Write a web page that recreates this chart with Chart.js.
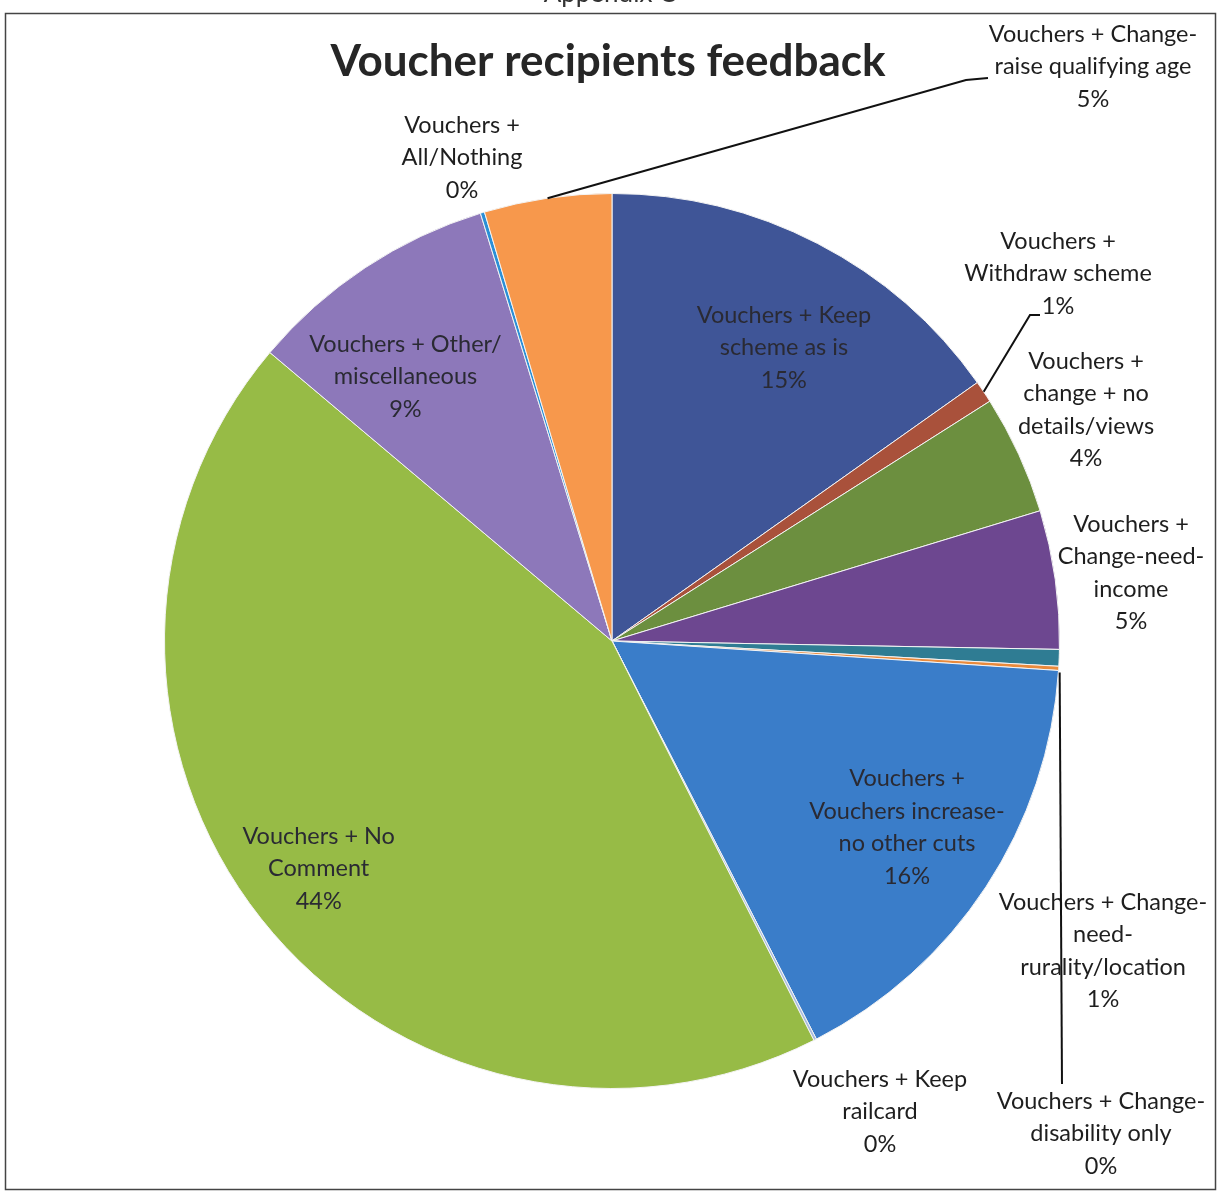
<!DOCTYPE html>
<html>
<head>
<meta charset="utf-8">
<script src="https://cdn.jsdelivr.net/npm/chart.js@4.4.1/dist/chart.umd.min.js"></script>
<style>
  html, body { margin: 0; padding: 0; background: #ffffff; }
  #wrap { width: 1221px; height: 1194px; position: relative; }
</style>
</head>
<body>
<div id="wrap"><canvas id="c" width="1221" height="1194"></canvas></div>
<script>
// ---- data ----
const chartTitle = "Voucher recipients feedback";
const pageHeading = "Appendix C";
const categories = [
  "Vouchers + Keep scheme as is",
  "Vouchers + Withdraw scheme",
  "Vouchers + change + no details/views",
  "Vouchers + Change-need-income",
  "Vouchers + Change-need-rurality/location",
  "Vouchers + Change-disability only",
  "Vouchers + Vouchers increase-no other cuts",
  "Vouchers + Keep railcard",
  "Vouchers + No Comment",
  "Vouchers + Other/miscellaneous",
  "Vouchers + All/Nothing",
  "Vouchers + Change-raise qualifying age"
];
const values = [15.2, 0.8, 4.3, 5.0, 0.6, 0.15, 16.4, 0.1, 43.6, 9.1, 0.15, 4.6];
// label text lines as wrapped in the picture (percent added from values)
const labelLines = [
  ["Vouchers + Keep", "scheme as is"],
  ["Vouchers +", "Withdraw scheme"],
  ["Vouchers +", "change + no", "details/views"],
  ["Vouchers +", "Change-need-", "income"],
  ["Vouchers + Change-", "need-", "rurality/location"],
  ["Vouchers + Change-", "disability only"],
  ["Vouchers +", "Vouchers increase-", "no other cuts"],
  ["Vouchers + Keep", "railcard"],
  ["Vouchers + No", "Comment"],
  ["Vouchers + Other/", "miscellaneous"],
  ["Vouchers +", "All/Nothing"],
  ["Vouchers + Change-", "raise qualifying age"]
];

// ---- styles ----
const colors = ["#3f5597", "#a9513b", "#6c8f3f", "#6d4790", "#2f7c93", "#e98a3c",
                "#3a7dc9", "#a9bddf", "#97bb46", "#8d78ba", "#2b8fd6", "#f7984c"];
// label placement: inside = polar fraction of radius along mid-angle; outside = explicit block centre
const labelPlace = [
  {inside: 0.76, dAng: 3},
  {x: 1058, y: 241, leader: [[1030, 315], [1040, 315]]},
  {x: 1086, y: 361},
  {x: 1131, y: 524},
  {x: 1103, y: 902},
  {x: 1101, y: 1101, leader: [[1062, 1084]], leaderFrom: "edgeRight"},
  {inside: 0.78, dAng: -1},
  {x: 880, y: 1079},
  {inside: 0.83, dAng: 0.5},
  {inside: 0.75, dAng: -4.5},
  {x: 462, y: 125},
  {x: 1093, y: 34, leader: [[966, 80], [988, 78]]}
];
const FONT = "Lato, 'Open Sans', sans-serif";
const LINE_H = 32.5;

const decorPlugin = {
  id: 'decor',
  beforeDraw(chart) {
    const ctx = chart.ctx;
    ctx.save();
    ctx.fillStyle = '#ffffff';
    ctx.fillRect(0, 0, chart.width, chart.height);
    // page heading (cut off by the scan)
    ctx.fillStyle = '#333';
    ctx.font = "26px " + FONT;
    ctx.textAlign = 'center';
    ctx.textBaseline = 'alphabetic';
    ctx.fillText(pageHeading, 610, 2);
    // frame
    ctx.strokeStyle = '#444';
    ctx.lineWidth = 1.5;
    ctx.strokeRect(5.5, 13.5, 1210, 1176);
    // title
    ctx.fillStyle = '#262626';
    ctx.font = "bold 44px " + FONT;
    ctx.textBaseline = 'middle';
    ctx.fillText(chartTitle, 608, 62);
    ctx.restore();
  },
  afterDraw(chart) {
    const ctx = chart.ctx;
    const meta = chart.getDatasetMeta(0);
    const total = values.reduce((a, b) => a + b, 0);
    ctx.save();
    ctx.font = "23.5px " + FONT;
    ctx.textAlign = 'center';
    ctx.textBaseline = 'middle';
    meta.data.forEach((arc, i) => {
      const p = arc.getProps(['x', 'y', 'startAngle', 'endAngle', 'outerRadius'], true);
      const mid = (p.startAngle + p.endAngle) / 2;
      const pct = Math.round(values[i] / total * 100) + "%";
      const lines = labelLines[i].concat([pct]);
      const place = labelPlace[i];
      let cx, cy;
      if (place.inside) {
        const a = mid + (place.dAng || 0) * Math.PI / 180;
        const r = p.outerRadius * place.inside;
        cx = p.x + Math.cos(a) * r;
        cy = p.y + Math.sin(a) * r - (lines.length - 1) * LINE_H / 2;
        ctx.fillStyle = '#2a2a33';
      } else {
        cx = place.x; cy = place.y;
        ctx.fillStyle = '#1e1e1e';
      }
      // leader line
      if (place.leader) {
        let sx = p.x + Math.cos(mid) * p.outerRadius;
        let sy = p.y + Math.sin(mid) * p.outerRadius;
        if (place.leaderFrom === 'edgeRight') {
          sx += 1;
          sy += 4;
        }
        ctx.save();
        ctx.strokeStyle = '#111';
        ctx.lineWidth = 2;
        ctx.beginPath();
        ctx.moveTo(sx, sy);
        place.leader.forEach(pt => ctx.lineTo(pt[0], pt[1]));
        ctx.stroke();
        ctx.restore();
      }
      lines.forEach((t, k) => ctx.fillText(t, cx, cy + k * LINE_H));
    });
    ctx.restore();
  }
};

new Chart(document.getElementById('c'), {
  type: 'pie',
  data: {
    labels: categories,
    datasets: [{
      data: values,
      backgroundColor: colors,
      borderColor: '#f4f4f4',
      borderWidth: 1
    }]
  },
  options: {
    responsive: false,
    animation: false,
    layout: { padding: { left: 164, right: 161, top: 193, bottom: 105 } },
    plugins: {
      legend: { display: false },
      title: { display: false },
      tooltip: { enabled: false }
    }
  },
  plugins: [decorPlugin]
});
</script>
</body>
</html>
